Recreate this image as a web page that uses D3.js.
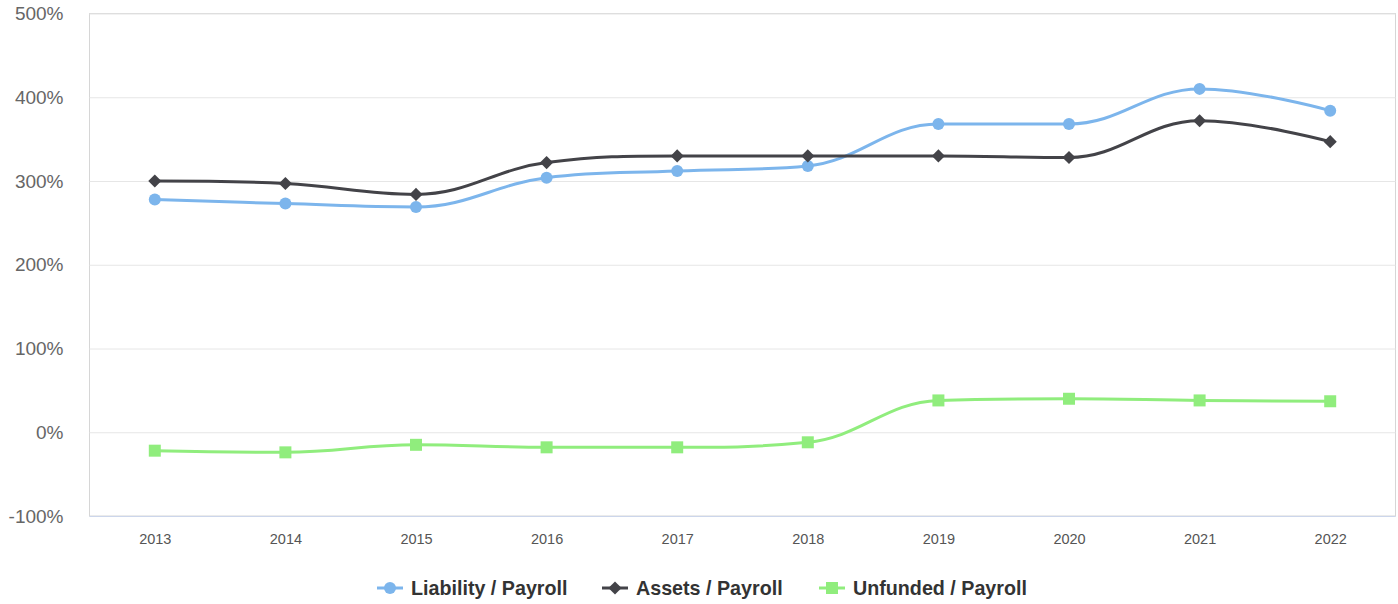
<!DOCTYPE html>
<html>
<head>
<meta charset="utf-8">
<script src="https://cdn.jsdelivr.net/npm/d3@7"></script>
<style>
  html, body { margin: 0; padding: 0; background: #fff; }
  svg { display: block; font-family: "Liberation Sans", Arial, Helvetica, sans-serif; }
</style>
</head>
<body>
<svg id="chart" width="1398" height="604"></svg>
<script>
// Ratios to payroll, in percent
const years = ["2013", "2014", "2015", "2016", "2017", "2018", "2019", "2020", "2021", "2022"];
const liabilityPayroll = [278, 273, 269, 304, 312, 318, 368, 368, 410, 384];
const assetsPayroll = [300, 297, 284, 322, 330, 330, 330, 328, 372, 347];
const unfundedPayroll = [-22, -24, -15, -18, -18, -12, 38, 40, 38, 37];
const yTicks = [-100, 0, 100, 200, 300, 400, 500];

const series = [
  { name: "Liability / Payroll", values: liabilityPayroll, color: "#7cb5ec", symbol: "circle" },
  { name: "Assets / Payroll", values: assetsPayroll, color: "#434348", symbol: "diamond" },
  { name: "Unfunded / Payroll", values: unfundedPayroll, color: "#90ed7d", symbol: "square" }
];

const plot = { left: 89.5, right: 1395.5, top: 13.5, bottom: 516 };

const svg = d3.select("#chart");

const x = d3.scalePoint().domain(years).range([plot.left, plot.right]).padding(0.5);
const y = d3.scaleLinear().domain([-100, 500]).range([plot.bottom, plot.top]);

// Smooth spline: control points on a line through each point, clamped to avoid false extremes
function SplineCurve(context) { this._context = context; }
SplineCurve.prototype = {
  areaStart() {}, areaEnd() {},
  lineStart() { this._pts = []; },
  point(px, py) { this._pts.push([+px, +py]); },
  lineEnd() {
    const p = this._pts, n = p.length, ctx = this._context;
    if (!n) return;
    const s = 1.5, d = s + 1;
    const lc = [], rc = [];
    for (let i = 0; i < n; i++) {
      if (i === 0 || i === n - 1) { lc[i] = p[i].slice(); rc[i] = p[i].slice(); continue; }
      const [lx, ly] = p[i - 1], [cx, cy] = p[i], [nx, ny] = p[i + 1];
      let lcx = (s * cx + lx) / d, lcy = (s * cy + ly) / d;
      let rcx = (s * cx + nx) / d, rcy = (s * cy + ny) / d;
      let corr = 0;
      if (rcx !== lcx) corr = ((rcy - lcy) * (rcx - cx)) / (rcx - lcx) + cy - rcy;
      lcy += corr; rcy += corr;
      if (lcy > ly && lcy > cy) { lcy = Math.max(ly, cy); rcy = 2 * cy - lcy; }
      else if (lcy < ly && lcy < cy) { lcy = Math.min(ly, cy); rcy = 2 * cy - lcy; }
      if (rcy > ny && rcy > cy) { rcy = Math.max(ny, cy); lcy = 2 * cy - rcy; }
      else if (rcy < ny && rcy < cy) { rcy = Math.min(ny, cy); lcy = 2 * cy - rcy; }
      lc[i] = [lcx, lcy]; rc[i] = [rcx, rcy];
    }
    ctx.moveTo(p[0][0], p[0][1]);
    for (let i = 1; i < n; i++) {
      ctx.bezierCurveTo(rc[i - 1][0], rc[i - 1][1], lc[i][0], lc[i][1], p[i][0], p[i][1]);
    }
  }
};
const splineCurve = ctx => new SplineCurve(ctx);

// Plot frame
svg.append("rect")
  .attr("x", plot.left).attr("y", plot.top)
  .attr("width", plot.right - plot.left).attr("height", plot.bottom - plot.top)
  .attr("fill", "none").attr("stroke", "#d6d6d6").attr("stroke-width", 1);

// Y axis with gridlines
const yAxis = svg.append("g")
  .attr("transform", `translate(${plot.left},0)`)
  .call(d3.axisLeft(y).tickValues(yTicks).tickFormat(v => v + "%")
    .tickSize(-(plot.right - plot.left)).tickPadding(26));
yAxis.select(".domain").remove();
yAxis.selectAll(".tick line").attr("stroke", "#e6e6e6");
yAxis.selectAll(".tick text")
  .attr("fill", "#666666").attr("font-size", "19px")
  .style("font-family", "'Liberation Sans', Arial, sans-serif");

// X axis
const xAxis = svg.append("g")
  .attr("transform", `translate(0,${plot.bottom})`)
  .call(d3.axisBottom(x).tickSize(0).tickPadding(18));
xAxis.select(".domain").attr("stroke", "#ccd6eb").attr("stroke-width", 1)
  .attr("d", `M${plot.left},0.5H${plot.right}`);
xAxis.selectAll(".tick text")
  .attr("fill", "#555555").attr("font-size", "14.5px")
  .style("font-family", "'Liberation Sans', Arial, sans-serif");

const line = d3.line()
  .x((d, i) => x(years[i]))
  .y(d => y(d))
  .curve(splineCurve);

const symbolFor = {
  circle: d3.symbol().type(d3.symbolCircle).size(Math.PI * 36),
  diamond: d3.symbol().type(d3.symbolDiamond2).size(110),
  square: d3.symbol().type(d3.symbolSquare).size(144)
};

// Series lines and markers
series.forEach(s => {
  const g = svg.append("g");
  g.append("path")
    .datum(s.values)
    .attr("d", line)
    .attr("fill", "none")
    .attr("stroke", s.color)
    .attr("stroke-width", 3)
    .attr("stroke-linejoin", "round")
    .attr("stroke-linecap", "round");
  g.selectAll("path.marker")
    .data(s.values)
    .join("path")
    .attr("class", "marker")
    .attr("transform", (d, i) => `translate(${x(years[i])},${y(d)})`)
    .attr("d", symbolFor[s.symbol]())
    .attr("fill", s.color);
});

// Legend
const legendItems = [
  { s: series[0], x: 377 },
  { s: series[1], x: 602 },
  { s: series[2], x: 819 }
];
const legendY = 588;
const legend = svg.append("g");
legendItems.forEach(({ s, x: lx }) => {
  const item = legend.append("g").attr("transform", `translate(${lx},${legendY})`);
  item.append("line")
    .attr("x1", 0).attr("x2", 26).attr("y1", 0).attr("y2", 0)
    .attr("stroke", s.color).attr("stroke-width", 3);
  item.append("path")
    .attr("transform", "translate(13,0)")
    .attr("d", symbolFor[s.symbol]())
    .attr("fill", s.color);
  item.append("text")
    .attr("x", 34).attr("y", 0).attr("dy", "0.35em")
    .attr("fill", "#333333").attr("font-size", "19.7px").attr("font-weight", "bold")
    .text(s.name);
});
</script>
</body>
</html>
